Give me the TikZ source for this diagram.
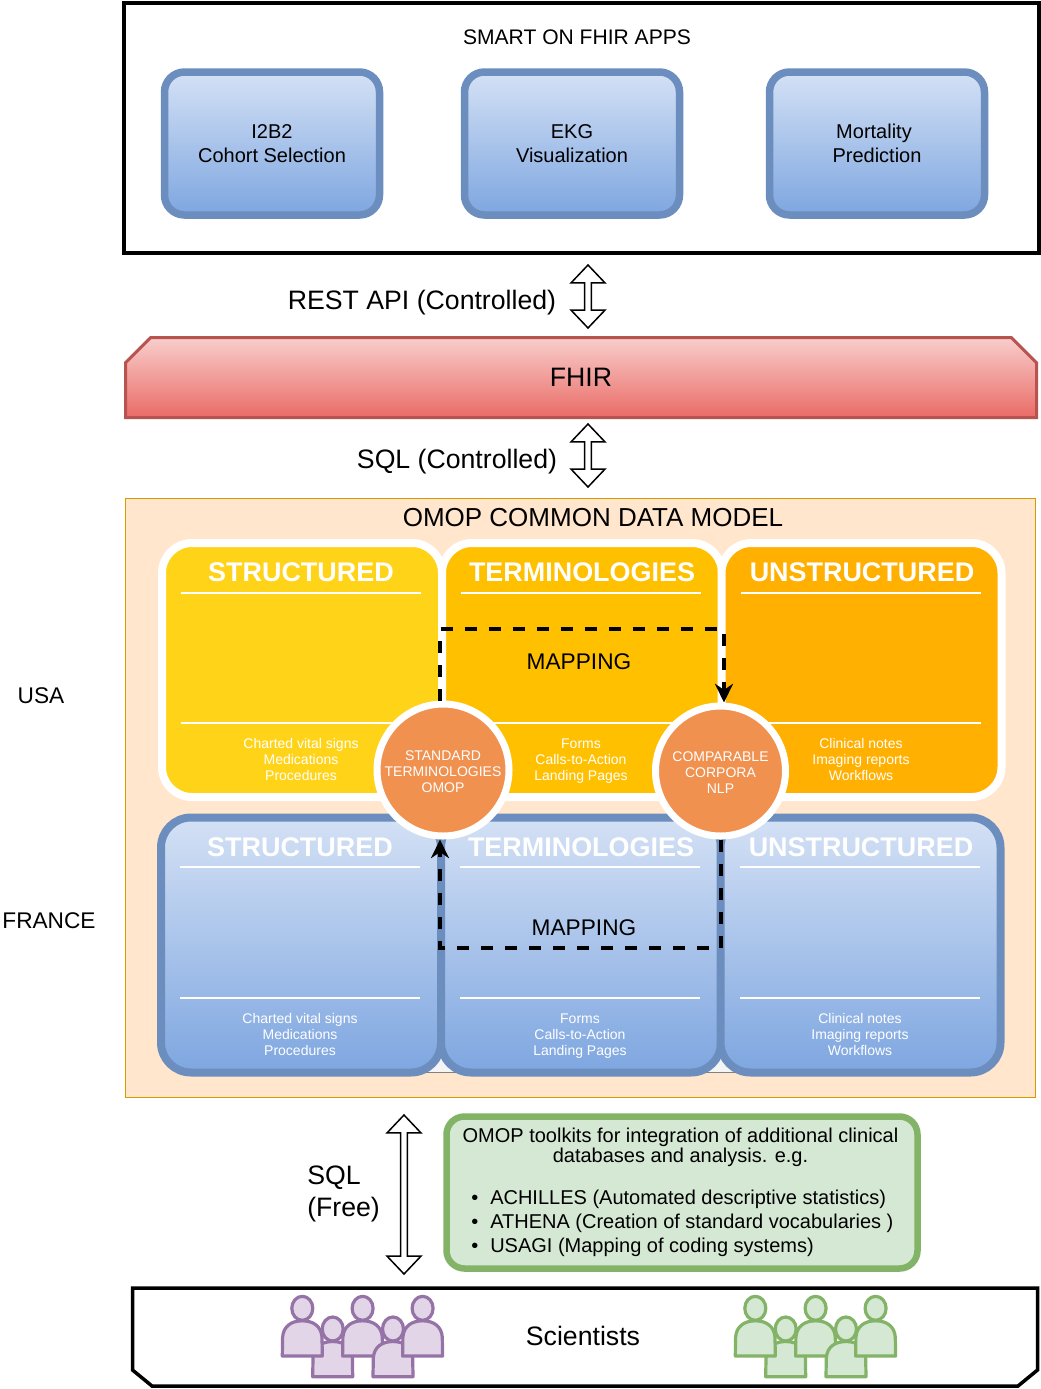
\documentclass[tikz,border=0pt]{standalone}
\usepackage{fontspec}
\setmainfont{Liberation Sans}
\usetikzlibrary{shapes.misc,shapes.arrows,arrows.meta}
\definecolor{appfill}{HTML}{D4E1F5}
\definecolor{appfilldark}{HTML}{7EA6E0}
\definecolor{appline}{HTML}{6C8EBF}
\definecolor{redfill}{HTML}{F8CECC}
\definecolor{redfilldark}{HTML}{EA6B66}
\definecolor{redline}{HTML}{B85450}
\definecolor{peach}{HTML}{FFE6CC}
\definecolor{peachline}{HTML}{D79B00}
\definecolor{yellowa}{HTML}{FFD317}
\definecolor{yellowb}{HTML}{FFC000}
\definecolor{yellowc}{HTML}{FFB000}
\definecolor{circfill}{HTML}{F09150}
\definecolor{greenfill}{HTML}{D5E8D4}
\definecolor{greenline}{HTML}{82B366}
\definecolor{purplefill}{HTML}{E1D5E7}
\definecolor{purpleline}{HTML}{9673A6}
\newcommand{\ux}{0.75pt}
\newcommand{\personhead}[2]{\draw[crowdline] (#1,#2) ellipse [x radius=10.5,y radius=12];}
\newcommand{\personbody}[2]{\draw[crowdline] (#1-20,#2+47.7) -- (#1-19.7,#2+29) .. controls (#1-19,#2+18) and (#1-11,#2+12.5) .. (#1,#2+12.5) .. controls (#1+11,#2+12.5) and (#1+19,#2+18) .. (#1+19.7,#2+29) -- (#1+20,#2+47.7) -- cycle;}
\newcommand{\crowd}[2]{%
\begin{scope}[shift={(#1,0)},#2]
\personbody{332.7}{1329}
\personbody{302.3}{1308.3}
\personbody{362.6}{1308.3}
\personbody{393}{1329}
\personbody{422.6}{1308.3}
\personhead{302.3}{1308.3}
\personhead{362.6}{1308.3}
\personhead{422.6}{1308.3}
\personhead{332.7}{1329}
\personhead{393}{1329}
\end{scope}}
\tikzset{
  txt/.style={inner sep=0pt,align=center,font=\fontsize{15}{18}\selectfont},
  bigtxt/.style={inner sep=0pt,align=center,font=\fontsize{20}{24}\selectfont},
  midtxt/.style={inner sep=0pt,align=center,font=\fontsize{17}{20}\selectfont},
  appbox/.style={draw=appline,line width=7.5*\ux,rounded corners=20*\ux,top color=appfill,bottom color=appfilldark,minimum width=215*\ux,minimum height=143*\ux,inner sep=0pt},
  updown/.style={draw=black,fill=white,line width=1.5*\ux,double arrow,rotate=90,inner sep=0pt,minimum width=34*\ux,double arrow head extend=3*\ux,double arrow head indent=0pt,double arrow tip angle=87},
  usapanel/.style={draw=white,line width=8*\ux,rounded corners=30*\ux,minimum width=280*\ux,minimum height=254*\ux,inner sep=0pt},
  frpanel/.style={draw=appline,line width=8*\ux,rounded corners=30*\ux,top color=appfill,bottom color=appfilldark,minimum width=280*\ux,minimum height=255*\ux,inner sep=0pt},
  paneltitle/.style={inner sep=0pt,text=white,font=\fontsize{20.2}{24}\selectfont\bfseries},
  panelrule/.style={draw=white,line width=2*\ux},
  paneltxt/.style={inner sep=0pt,align=center,text=white,font=\fontsize{10.5}{12}\selectfont},
  hub/.style={circle,draw=white,fill=circfill,line width=7*\ux,inner sep=0pt,align=center,text=white,font=\fontsize{10.5}{12}\selectfont},
  mapline/.style={draw=black,line width=4*\ux,dash pattern=on 12*\ux off 12*\ux},
  crowdline/.style={line width=3.2*\ux,line join=round},
}
\begin{document}
\begin{tikzpicture}[x=\ux,y=-\ux,>={Stealth[length=14pt,width=13.5pt]}]
\useasboundingbox (0,0) rectangle (1041,1389);
\fill[white] (0,0) rectangle (1041,1389);
\node[draw=black,fill=white,line width=4*\ux,minimum width=915*\ux,minimum height=250*\ux] (appsframe) at (581,127.5) {};
\node[txt,font=\fontsize{15.8}{18}\selectfont] (appstitle) at (577,37) {SMART ON FHIR APPS};
\node[appbox,txt] (cohort) at (272,143.5) {I2B2\\Cohort Selection};
\node[appbox,txt] (ekg) at (572,143.5) {EKG\\Visualization};
\node[appbox,txt] (mortality) at (877,143.5) {Mortality\hspace*{4.5pt}\null\\Prediction};

\node[updown,minimum height=63*\ux] (restarrow) at (588,296.5) {};
\node[bigtxt] (restlabel) at (422,303) {REST API (Controlled)};
\node[chamfered rectangle,chamfered rectangle corners={north west,north east},chamfered rectangle xsep=16.5pt,chamfered rectangle ysep=12pt,draw=redline,line width=3*\ux,top color=redfill,bottom color=redfilldark,minimum width=911*\ux,minimum height=80*\ux,inner sep=0pt,bigtxt] (fhir) at (581,377.5) {FHIR};
\node[updown,minimum height=63*\ux] (sqlarrow) at (588,455.5) {};
\node[bigtxt] (sqllabel) at (457,462) {SQL (Controlled)};

\node[draw=peachline,fill=peach,line width=1*\ux,minimum width=910*\ux,minimum height=599*\ux] (omop) at (580.5,797.5) {};
\node[bigtxt,font=\fontsize{19.5}{24}\selectfont] (omoptitle) at (593,518) {OMOP COMMON DATA MODEL};
\node[midtxt] (usa) at (41,696) {USA};
\node[midtxt] (france) at (49,921) {FRANCE};

\node[usapanel,fill=yellowa] (usstruct) at (302,670) {};
\node[usapanel,fill=yellowb] (usterm) at (582,670) {};
\node[usapanel,fill=yellowc] (usunstruct) at (861.5,670) {};
\node[paneltitle] (usstructtitle) at (301,572) {STRUCTURED};
\node[paneltitle] (ustermtitle) at (582,572) {TERMINOLOGIES};
\node[paneltitle] (usunstructtitle) at (862,572) {UNSTRUCTURED};
\draw[panelrule] (181,593) -- (421,593) (181,723) -- (421,723);
\draw[panelrule] (461,593) -- (701,593) (461,723) -- (701,723);
\draw[panelrule] (741,593) -- (981,593) (741,723) -- (981,723);
\node[paneltxt] (usstructtxt) at (301,759) {Charted vital signs\\Medications\\Procedures};
\node[paneltxt] (ustermtxt) at (581,761) {Forms\\Calls-to-Action\\Landing Pages};
\node[paneltxt] (usunstructtxt) at (861,759) {Clinical notes\\Imaging reports\\Workflows};
\node[midtxt] (usmapping) at (579,662) {MAPPING};

\fill[gray!8] (420,1040) rectangle (740,1072);
\draw[gray,line width=1*\ux] (420,1072.5) -- (740,1072.5);
\node[frpanel] (frstruct) at (301,945) {};
\node[frpanel] (frterm) at (581,945) {};
\node[frpanel] (frunstruct) at (860.5,945) {};
\node[paneltitle] (frstructtitle) at (300,847) {STRUCTURED};
\node[paneltitle] (frtermtitle) at (581,847) {TERMINOLOGIES};
\node[paneltitle] (frunstructtitle) at (861,847) {UNSTRUCTURED};
\draw[panelrule] (180,867) -- (420,867) (180,998) -- (420,998);
\draw[panelrule] (460,867) -- (700,867) (460,998) -- (700,998);
\draw[panelrule] (740,867) -- (980,867) (740,998) -- (980,998);
\node[paneltxt] (frstructtxt) at (300,1034) {Charted vital signs\\Medications\\Procedures};
\node[paneltxt] (frtermtxt) at (580,1036) {Forms\\Calls-to-Action\\Landing Pages};
\node[paneltxt] (frunstructtxt) at (860,1034) {Clinical notes\\Imaging reports\\Workflows};
\node[midtxt] (frmapping) at (584,928) {MAPPING};

\node[hub,minimum size=132*\ux] (stdterm) at (443,770) {\rule{0pt}{10.5pt}STANDARD\\TERMINOLOGIES\\OMOP};
\node[hub,minimum size=130*\ux] (compnlp) at (720.5,771) {\rule{0pt}{9.5pt}COMPARABLE\\CORPORA\\NLP};
\coordinate (usnw) at (440,629);
\coordinate (usne) at (724,629);
\coordinate (frse) at (720.5,948);
\coordinate (frsw) at (440,948);
\draw[mapline,->] (stdterm.north -| usnw) -- (usnw) -- (usne) -- (compnlp.north -| usne);
\draw[mapline,->] (compnlp.south) -- (frse) -- (frsw) -- (stdterm.south -| frsw);

\node[updown,minimum height=159*\ux] (freearrow) at (404,1194.5) {};
\node[bigtxt,align=left,anchor=west,font=\fontsize{20}{24}\selectfont] (freelabel) at (307,1193.5) {SQL\\(Free)};
\node[draw=greenline,fill=greenfill,line width=6.5*\ux,rounded corners=18*\ux,minimum width=471*\ux,minimum height=152*\ux] (toolkits) at (682,1192.5) {};
\node[txt,font=\fontsize{15}{15}\selectfont] (toolkitstitle) at (680.5,1147) {OMOP toolkits for integration of additional clinical\\databases and analysis. e.g.};
\node[txt,align=left,anchor=west] (toolkitslist) at (471,1223) {\textbullet\hspace{9pt}ACHILLES (Automated descriptive statistics)\\\textbullet\hspace{9pt}ATHENA (Creation of standard vocabularies )\\\textbullet\hspace{9pt}USAGI (Mapping of coding systems)};

\fill[white,draw=black,line width=3.5*\ux] (132.5,1288) -- (1037.5,1288) -- (1037.5,1370) -- (1018,1386) -- (152,1386) -- (132.5,1370) -- cycle;
\node[bigtxt] (scientists) at (583,1336) {Scientists};
\crowd{0}{every path/.append style={draw=purpleline,fill=purplefill}}
\crowd{453}{every path/.append style={draw=greenline,fill=greenfill}}
\end{tikzpicture}
\end{document}
